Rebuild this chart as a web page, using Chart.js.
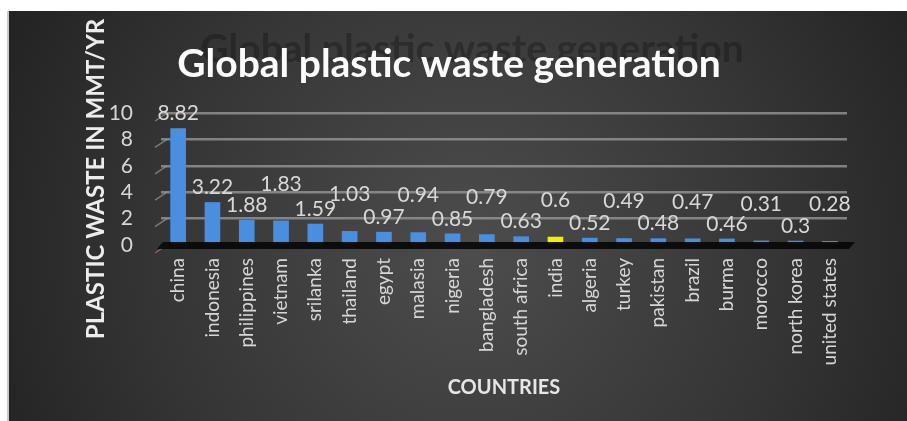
<!DOCTYPE html>
<html><head><meta charset="utf-8">
<script src="https://cdn.jsdelivr.net/npm/chart.js@4.4.1/dist/chart.umd.min.js"></script>
<style>html,body{margin:0;padding:0;background:#fff;overflow:hidden}#wrap{width:907px;height:421px;position:relative}canvas{display:block}</style>
</head><body><div id="wrap"><canvas id="c" width="907" height="421"></canvas></div>
<script>
// ---- data ----
const categories = ['china','indonesia','philippines','vietnam','srilanka','thailand','egypt','malasia','nigeria','bangladesh','south africa','india','algeria','turkey','pakistan','brazil','burma','morocco','north korea','united states'];
const values = [8.82,3.22,1.88,1.83,1.59,1.03,0.97,0.94,0.85,0.79,0.63,0.6,0.52,0.49,0.48,0.47,0.46,0.31,0.3,0.28];
const yTicks = [0,2,4,6,8,10];
const highlighted = ['india'];
const chartTitle = 'Global plastic waste generation';
const yTitle = 'PLASTIC WASTE IN MMT/YR';
const xTitle = 'COUNTRIES';

// ---- styles ----
const FONT = 'Lato, "Open Sans", sans-serif';
const BLUE = '#4a8ee0';
const YELLOW = '#f4ef00';

const panelPlugin = {
  id: 'panel',
  beforeDraw(chart) {
    const ctx = chart.ctx;
    const W = chart.width, H = chart.height;
    ctx.save();
    ctx.fillStyle = '#ffffff';
    ctx.fillRect(0, 0, W, H);
    ctx.fillStyle = '#c8c8c8';
    ctx.fillRect(7, 11, 2, H - 11);
    const g = ctx.createRadialGradient(470, 250, 10, 470, 250, 560);
    g.addColorStop(0, '#4c4c4c');
    g.addColorStop(0.55, '#353535');
    g.addColorStop(1, '#1f1f1f');
    ctx.fillStyle = g;
    ctx.fillRect(9, 11, W - 9, H - 11);
    // ghost title
    ctx.font = 'bold 39px ' + FONT;
    ctx.textAlign = 'center';
    ctx.textBaseline = 'alphabetic';
    ctx.fillStyle = 'rgba(18,18,18,0.38)';
    ctx.fillText(chartTitle, 472, 62);
    ctx.restore();
  },
  beforeDatasetsDraw(chart) {
    // short side-wall edges at each gridline
    const ctx = chart.ctx;
    const a = chart.chartArea;
    const ys = chart.scales.y;
    ctx.save();
    ctx.lineWidth = 1.5;
    yTicks.forEach(v => {
      const y = ys.getPixelForValue(v);
      ctx.strokeStyle = v === 0 ? 'rgba(170,110,100,0.8)' : 'rgba(150,150,150,0.7)';
      ctx.beginPath();
      ctx.moveTo(a.left - 6, y + 8);
      ctx.lineTo(a.left + 6, y);
      ctx.stroke();
    });
    ctx.restore();
  },
  afterDatasetsDraw(chart) {
    const ctx = chart.ctx;
    const a = chart.chartArea;
    ctx.save();
    // floor band
    ctx.fillStyle = 'rgba(8,8,8,0.92)';
    ctx.beginPath();
    ctx.moveTo(a.left + 2, a.bottom - 3);
    ctx.lineTo(a.right + 8, a.bottom - 3);
    ctx.lineTo(a.right + 2, a.bottom + 4);
    ctx.lineTo(a.left - 4, a.bottom + 4);
    ctx.closePath();
    ctx.fill();
    // main title
    ctx.font = 'bold 39px ' + FONT;
    ctx.textAlign = 'center';
    ctx.textBaseline = 'alphabetic';
    ctx.fillStyle = '#fbfbfb';
    ctx.fillText(chartTitle, 449, 77);
    // value labels with simple collision avoidance
    const meta = chart.getDatasetMeta(0);
    ctx.font = '21px ' + FONT;
    ctx.fillStyle = '#d8d8d8';
    ctx.textBaseline = 'middle';
    let prev = null;
    meta.data.forEach((bar, i) => {
      const txt = String(values[i]);
      const w = ctx.measureText(txt).width;
      let y = bar.y - 15;
      if (prev && Math.abs(bar.x - prev.x) < (w + prev.w) / 2 && Math.abs(y - prev.y) < 16) {
        y = y - 22;
      }
      ctx.fillText(txt, bar.x, y);
      prev = { x: bar.x, y: y, w: w };
    });
    ctx.restore();
  }
};

const LEFT_PAD = 82, CHART_LEFT = 161, CHART_TOP = 113, CHART_BOTTOM = 245, BOTTOM_PAD = 21;

new Chart(document.getElementById('c'), {
  type: 'bar',
  data: {
    labels: categories,
    datasets: [{
      data: values,
      backgroundColor: categories.map(c => highlighted.includes(c) ? YELLOW : BLUE),
      barThickness: 15,
      borderWidth: 0
    }]
  },
  options: {
    responsive: false,
    animation: false,
    events: [],
    layout: { padding: { left: LEFT_PAD, right: 60, top: CHART_TOP, bottom: BOTTOM_PAD } },
    plugins: { legend: { display: false }, tooltip: { enabled: false }, title: { display: false } },
    scales: {
      x: {
        grid: { display: false },
        border: { display: false },
        ticks: {
          color: '#d6d6d6',
          font: { family: FONT, size: 19 },
          minRotation: 90, maxRotation: 90,
          autoSkip: false,
          padding: 5
        },
        title: {
          display: true, text: xTitle, color: '#e6e6e6',
          font: { family: FONT, size: 20, weight: 'bold' },
          padding: 0
        },
        afterFit(s) { s.height = 421 - CHART_BOTTOM - BOTTOM_PAD; }
      },
      y: {
        min: 0, max: 10,
        afterBuildTicks(s) { s.ticks = yTicks.map(v => ({ value: v })); },
        grid: {
          color: ctx => ctx.tick && ctx.tick.value === 0 ? 'rgba(0,0,0,0)' : 'rgba(150,150,150,0.8)',
          lineWidth: 2.5,
          drawTicks: false
        },
        border: { display: false },
        ticks: {
          color: '#d6d6d6',
          font: { family: FONT, size: 21 },
          autoSkip: false,
          padding: 28
        },
        title: {
          display: true, text: yTitle, color: '#ececec',
          font: { family: FONT, size: 24, weight: 'bold' },
          padding: 0
        },
        afterFit(s) { s.width = CHART_LEFT - LEFT_PAD; }
      }
    }
  },
  plugins: [panelPlugin]
});
</script>
</body></html>
